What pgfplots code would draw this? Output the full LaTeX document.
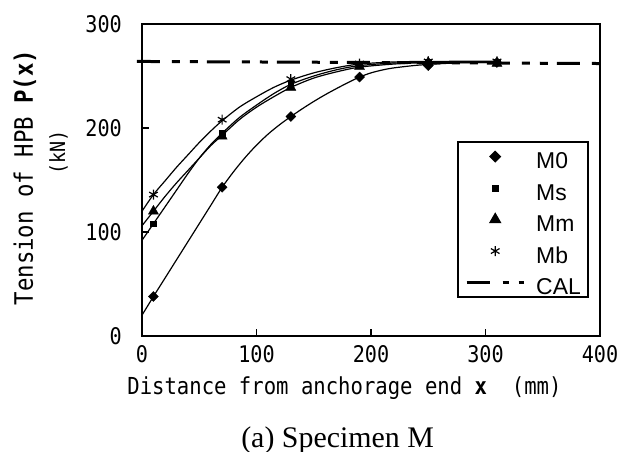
\documentclass[border=0pt]{standalone}
\usepackage{pgfplots}
\pgfplotsset{compat=1.18}
\usepackage{fontspec}
\setmainfont{Liberation Serif}
\newfontfamily\gothic[FakeStretch=0.88]{DejaVu Sans Mono}
\newfontfamily\arial{Liberation Sans}

\begin{document}
\begin{tikzpicture}
\useasboundingbox (-142bp,-116bp) rectangle (480bp,336bp);
\begin{axis}[at={(0,0)}, anchor=south west, scale only axis,
  width=458bp, height=312bp,
  xmin=0, xmax=400, ymin=0, ymax=300,
  xtick={0,100,200,300,400}, ytick={0,100,200,300},
  tick pos=left, tick align=inside, major tick length=7bp,
  axis line style={line width=1.4bp},
  every tick/.style={black, line width=1.2bp},
  clip=false,
  /pgf/number format/assume math mode=true,
  ticklabel style={font=\fontsize{23}{23}\gothic, inner sep=0pt},
  xticklabel style={anchor=base, yshift=-26bp},
  yticklabel style={anchor=east, xshift=-20bp},
  legend style={at={(0.975,0.624)}, anchor=north east, draw=black,
    line width=1.5bp, font=\fontsize{23}{23}\arial, row sep=7.5bp,
    inner xsep=7bp, inner ysep=2.5bp,
    nodes={inner sep=0pt, text height=24bp, text depth=0bp},
    /tikz/every odd column/.append style={column sep=11bp}},
  legend cell align=left,
  legend image code/.code={\draw[mark repeat=2,mark phase=2,#1]
     plot coordinates {(0bp,0bp) (28.5bp,0bp) (57bp,0bp)};},
]
% fitted curves
\addplot[black, line width=1.2bp, smooth, forget plot] coordinates {
 (0,20) (10,38) (20,55.5) (30,73) (40,90.5) (50,108) (60,125.5) (70,143)
 (80,158) (90,171.5) (100,183.5) (110,194) (120,203) (130,211) (140,218.5)
 (150,225.5) (160,232) (170,238) (180,243.7) (190,249) (200,253) (210,255.8)
 (220,257.8) (240,260.3) (260,261.8) (280,262.7) (310,263.2)};
\addplot[black, line width=1.2bp, smooth, forget plot] coordinates {
 (0,92) (10,108) (20,124) (30,140) (40,156) (50,171) (60,184) (70,195)
 (85,210) (100,222) (115,233) (130,242) (150,250) (170,256) (190,260)
 (220,262.5) (250,263.3) (310,263.5)};
\addplot[black, line width=1.2bp, smooth, forget plot] coordinates {
 (0,106) (10,120) (20,134) (30,147) (40,159) (50,171) (60,183) (70,193)
 (85,208) (100,220) (115,230) (130,239) (150,248) (170,254) (190,258.5)
 (220,261.5) (250,262.8) (310,263)};
\addplot[black, line width=1.2bp, smooth, forget plot] coordinates {
 (0,120) (10,136) (20,149) (30,162) (40,174) (50,186) (60,197) (70,207)
 (85,220) (100,230) (115,239) (130,246) (150,253) (170,258) (190,261.5)
 (220,263.5) (250,264) (310,264.2)};
% measured points
\addplot[only marks, mark=diamond*, mark size=5bp, black, mark options={xscale=1.33}] coordinates {
 (10,38) (70,143) (130,211) (190,249) (250,260) (310,263)};
\addlegendentry{M0}
\addplot[only marks, mark=square*, mark size=2.8bp, black] coordinates {
 (10,108) (70,195) (130,243) (190,260) (250,263) (310,263)};
\addlegendentry{Ms}
\addplot[only marks, mark=triangle*, mark size=5.8bp, black] coordinates {
 (10,120) (70,192) (130,239) (190,259) (250,263) (310,262)};
\addlegendentry{Mm}
\addplot[only marks, mark=asterisk, mark size=5bp, black, mark options={line width=1.2bp}] coordinates {
 (10,136) (70,208) (130,247) (190,262) (250,264) (310,264)};
\addlegendentry{Mb}
\addplot[black, line width=3bp, dash pattern=on 23bp off 12bp on 8bp off 10bp on 8bp off 9bp,
  legend image code/.code={\draw[black, line width=3bp,
     dash pattern=on 23bp off 13bp on 6bp off 10bp on 5bp off 100bp] (0bp,0bp) -- (57bp,0bp);}]
  coordinates {(-4.4,264) (400,262)};
\addlegendentry{CAL}
% labels
\node[rotate=90, anchor=base, font=\fontsize{25.5}{25.5}\gothic]
  at (axis description cs:-0.238,0.508) {Tension of HPB \textbf{P(x)}};
\node[rotate=90, anchor=base, font=\fontsize{21}{21}\gothic]
  at (axis description cs:-0.168,0.588) {(kN)};
\node[anchor=base, font=\fontsize{23.5}{23.5}\gothic]
  at (axis description cs:0.442,-0.189) {Distance from anchorage end \textbf{x}\ \ (mm)};
\node[anchor=base, font=\fontsize{30}{30}\selectfont]
  at (axis description cs:0.427,-0.356) {(a) Specimen M};
\end{axis}
\end{tikzpicture}
\end{document}
